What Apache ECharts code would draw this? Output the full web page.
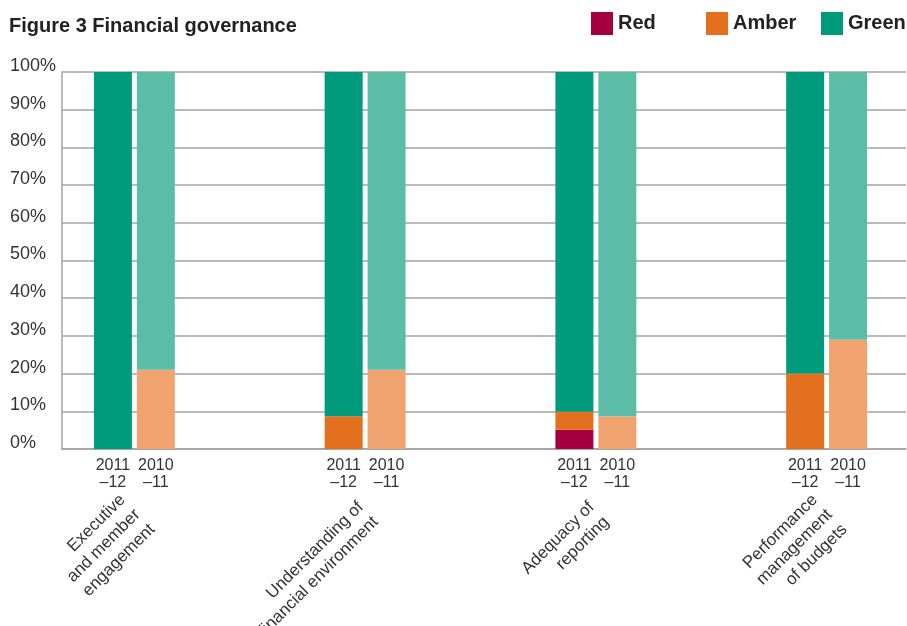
<!DOCTYPE html>
<html>
  <head>
    <meta charset="utf-8" />
    <title>Figure 3 Financial governance</title>
    <script src="https://cdn.jsdelivr.net/npm/echarts@6/dist/echarts.min.js"></script>
    <style>
      body {
        margin: 0;
        overflow: hidden;
      }
      /* a bit wider than the window so the bar grid can use a 230px band per group */
      #chart {
        width: 950px;
        height: 626px;
      }
    </style>
  </head>
  <body>
    <div id="chart"></div>

    <script>
      const categories = [
        'Executive\nand member\nengagement',
        'Understanding of\nfinancial environment',
        'Adequacy of\nreporting',
        'Performance\nmanagement\nof budgets'
      ];
      const years = ['2011\n–12', '2010\n–11'];
      const legendNames = ['Red', 'Amber', 'Green'];

      // 2011–12 (% of bodies)
      const red1112 = [0, 0, 5.1, 0];
      const amber1112 = [0, 8.7, 4.8, 20];
      const green1112 = [100, 91.3, 90.1, 80];

      // 2010–11
      const red1011 = [0, 0, 0, 0];
      const amber1011 = [21, 21, 8.7, 29];
      const green1011 = [79, 79, 91.3, 71];

      const font = "'Liberation Sans', Arial, sans-serif";
      const colors = {
        Red: ['#a5003f', '#d27f9f'],
        Amber: ['#e3701e', '#f0a36e'],
        Green: ['#009b7c', '#5bbca8']
      };

      function bar(name, data, yearIdx) {
        const s = {
          name: name,
          type: 'bar',
          stack: 'y' + yearIdx,
          xAxisIndex: 1,
          yAxisIndex: 1,
          barWidth: 38,
          barGap: '13%',
          data: data,
          itemStyle: { color: colors[name][yearIdx] }
        };
        if (name === 'Red') {
          // year text sits under the bottom segment of each bar
          s.label = {
            show: true,
            position: 'bottom',
            distance: 8,
            formatter: () => years[yearIdx],
            fontSize: 16,
            lineHeight: 17,
            color: '#333',
            fontFamily: font
          };
        }
        return s;
      }

      // one legend per item so they sit on a fixed 115px pitch like the original
      const legends = legendNames.map((n, i) => ({
        data: [n],
        left: 591 + i * 115,
        top: 12,
        padding: 0,
        icon: 'rect',
        itemWidth: 22,
        itemHeight: 23,
        itemTextGap: 7,
        textStyle: { fontSize: 20, fontWeight: 'bold', color: '#222', fontFamily: font }
      }));

      const option = {
        animation: false,
        textStyle: { fontFamily: font },
        title: {
          text: 'Figure 3 Financial governance',
          left: 9,
          top: 16,
          padding: 0,
          textStyle: { fontSize: 20, fontWeight: 'bold', color: '#222', fontFamily: font }
        },
        legend: legends,
        grid: [
          { left: 62, right: 44, top: 72, bottom: 177, outerBoundsMode: 'none' },
          { left: 19, width: 923, top: 72, bottom: 177, outerBoundsMode: 'none' },
          { left: 22, width: 923, top: 72, bottom: 177, outerBoundsMode: 'none' }
        ],
        xAxis: [
          {
            gridIndex: 0,
            type: 'category',
            data: categories,
            axisLine: { lineStyle: { color: '#a3a3a3', width: 1.5 } },
            axisTick: { show: false },
            axisLabel: { show: false }
          },
          { gridIndex: 1, type: 'category', data: categories, show: false },
          {
            gridIndex: 2,
            type: 'category',
            data: categories,
            axisLine: { show: false },
            axisTick: { show: false },
            axisLabel: {
              rotate: 45,
              margin: 63,
              interval: 0,
              fontSize: 17,
              lineHeight: 21,
              color: '#333',
              fontFamily: font
            }
          }
        ],
        yAxis: [
          {
            gridIndex: 0,
            type: 'value',
            min: 0,
            max: 100,
            interval: 10,
            axisLine: { show: true, lineStyle: { color: '#a3a3a3', width: 1.5 } },
            axisTick: { show: false },
            splitLine: { lineStyle: { color: '#a3a3a3', width: 1.5 } },
            axisLabel: {
              formatter: '{value}%',
              align: 'left',
              verticalAlign: 'bottom',
              lineHeight: 12,
              margin: 52,
              fontSize: 18,
              color: '#333',
              fontFamily: font
            }
          },
          { gridIndex: 1, type: 'value', min: 0, max: 100, show: false },
          { gridIndex: 2, type: 'value', min: 0, max: 100, show: false }
        ],
        series: [
          bar('Red', red1112, 0),
          bar('Amber', amber1112, 0),
          bar('Green', green1112, 0),
          bar('Red', red1011, 1),
          bar('Amber', amber1011, 1),
          bar('Green', green1011, 1)
        ]
      };

      const myChart = echarts.init(document.getElementById('chart'));
      myChart.setOption(option);
    </script>
  </body>
</html>
